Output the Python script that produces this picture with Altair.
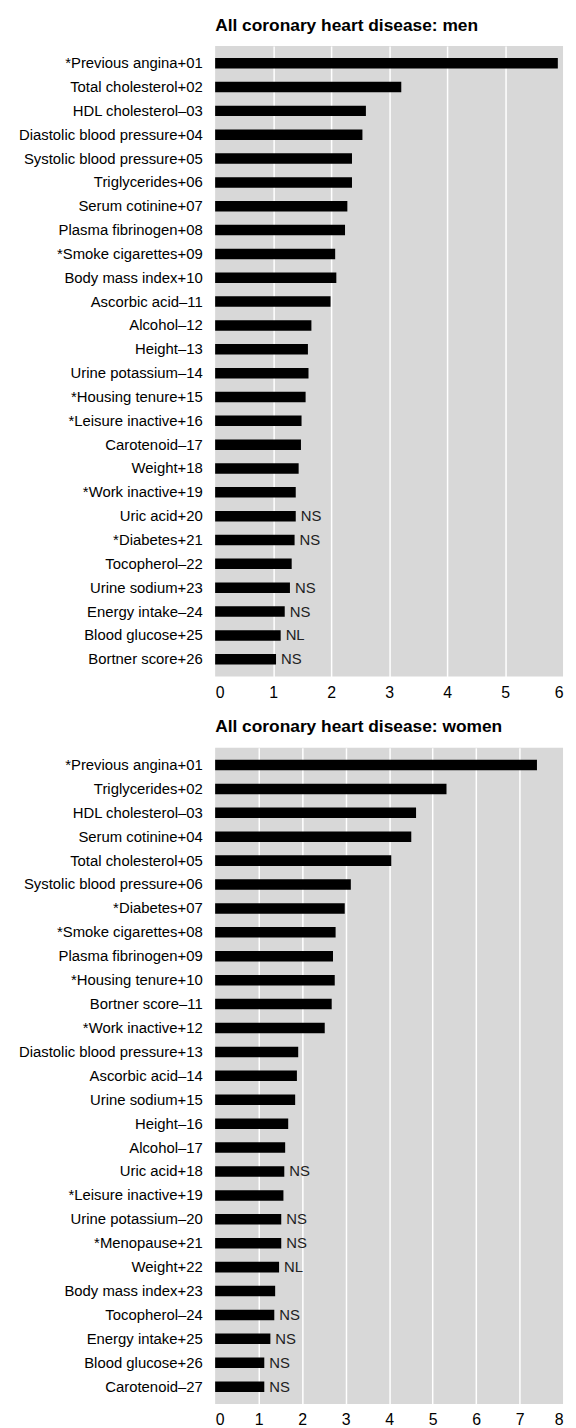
import altair as alt
import pandas as pd

FONT = "Liberation Sans, Arial, sans-serif"

men_labels = [
    "*Previous angina+01", "Total cholesterol+02", "HDL cholesterol\u201303",
    "Diastolic blood pressure+04", "Systolic blood pressure+05", "Triglycerides+06",
    "Serum cotinine+07", "Plasma fibrinogen+08", "*Smoke cigarettes+09",
    "Body mass index+10", "Ascorbic acid\u201311", "Alcohol\u201312", "Height\u201313",
    "Urine potassium\u201314", "*Housing tenure+15", "*Leisure inactive+16",
    "Carotenoid\u201317", "Weight+18", "*Work inactive+19", "Uric acid+20",
    "*Diabetes+21", "Tocopherol\u201322", "Urine sodium+23", "Energy intake\u201324",
    "Blood glucose+25", "Bortner score+26",
]
men_values = [5.91, 3.21, 2.60, 2.54, 2.36, 2.36, 2.28, 2.24, 2.07, 2.09, 1.99, 1.66,
              1.60, 1.61, 1.56, 1.49, 1.48, 1.44, 1.39, 1.39, 1.37, 1.32, 1.29, 1.20,
              1.13, 1.05]
men_notes = [""] * 19 + ["NS", "NS", "", "NS", "NS", "NL", "NS"]

women_labels = [
    "*Previous angina+01", "Triglycerides+02", "HDL cholesterol\u201303",
    "Serum cotinine+04", "Total cholesterol+05", "Systolic blood pressure+06",
    "*Diabetes+07", "*Smoke cigarettes+08", "Plasma fibrinogen+09",
    "*Housing tenure+10", "Bortner score\u201311", "*Work inactive+12",
    "Diastolic blood pressure+13", "Ascorbic acid\u201314", "Urine sodium+15",
    "Height\u201316", "Alcohol\u201317", "Uric acid+18", "*Leisure inactive+19",
    "Urine potassium\u201320", "*Menopause+21", "Weight+22", "Body mass index+23",
    "Tocopherol\u201324", "Energy intake+25", "Blood glucose+26", "Carotenoid\u201327",
]
women_values = [7.40, 5.32, 4.62, 4.51, 4.05, 3.12, 2.98, 2.77, 2.71, 2.75, 2.68, 2.52,
                1.91, 1.88, 1.84, 1.68, 1.61, 1.59, 1.57, 1.52, 1.52, 1.47, 1.38, 1.36,
                1.27, 1.13, 1.13]
women_notes = [""] * 17 + ["NS", "", "NS", "NS", "NL", "", "NS", "NS", "NS", "NS"]


def panel(labels, values, notes, title, xmax, height):
    df = pd.DataFrame({"label": labels, "value": values, "note": notes})
    x = alt.X(
        "value:Q",
        scale=alt.Scale(domain=[0, xmax], nice=False, zero=True),
        axis=alt.Axis(
            values=list(range(xmax + 1)), format="d", title=None, grid=True,
            gridColor={"condition": {"test": f"datum.value === 0 || datum.value === {xmax}",
                                     "value": "transparent"}, "value": "white"},
            gridWidth=1.5, domain=False, ticks=False, labelPadding=8,
            labelFontSize=16, labelFont=FONT, labelColor="black",
        ),
    )
    y = alt.Y(
        "label:N", sort=labels,
        scale=alt.Scale(paddingInner=0.56, paddingOuter=0.5, round=False),
        axis=alt.Axis(
            title=None, domain=False, ticks=False, labelPadding=13,
            labelFontSize=15, labelFont=FONT, labelColor="black", labelLimit=0,
            minExtent=204, maxExtent=204,
        ),
    )
    base = alt.Chart(df)
    bars = base.mark_bar(color="black").encode(x=x, y=y)
    text = base.mark_text(
        align="left", baseline="middle", dx=5, font=FONT, fontSize=15, color="#222222"
    ).encode(x="value:Q", y=alt.Y("label:N", sort=labels), text="note:N")
    return alt.layer(bars, text).properties(
        width=351, height=height,
        title=alt.TitleParams(
            title, anchor="start", frame="group", font=FONT, fontWeight="bold",
            fontSize=17.5, color="black", offset=12,
        ),
    )


top = panel(men_labels, men_values, men_notes, "All coronary heart disease: men", 6, 636)
bottom = panel(women_labels, women_values, women_notes, "All coronary heart disease: women", 8, 662)

chart = alt.vconcat(top, bottom, spacing=18).properties(
    padding={"left": 5, "top": 2, "right": 5, "bottom": 0},
    background="white",
).configure_view(fill="#d8d8d8", strokeWidth=0)

chart.save("out.html", embed_options={"renderer": "svg", "actions": False})
